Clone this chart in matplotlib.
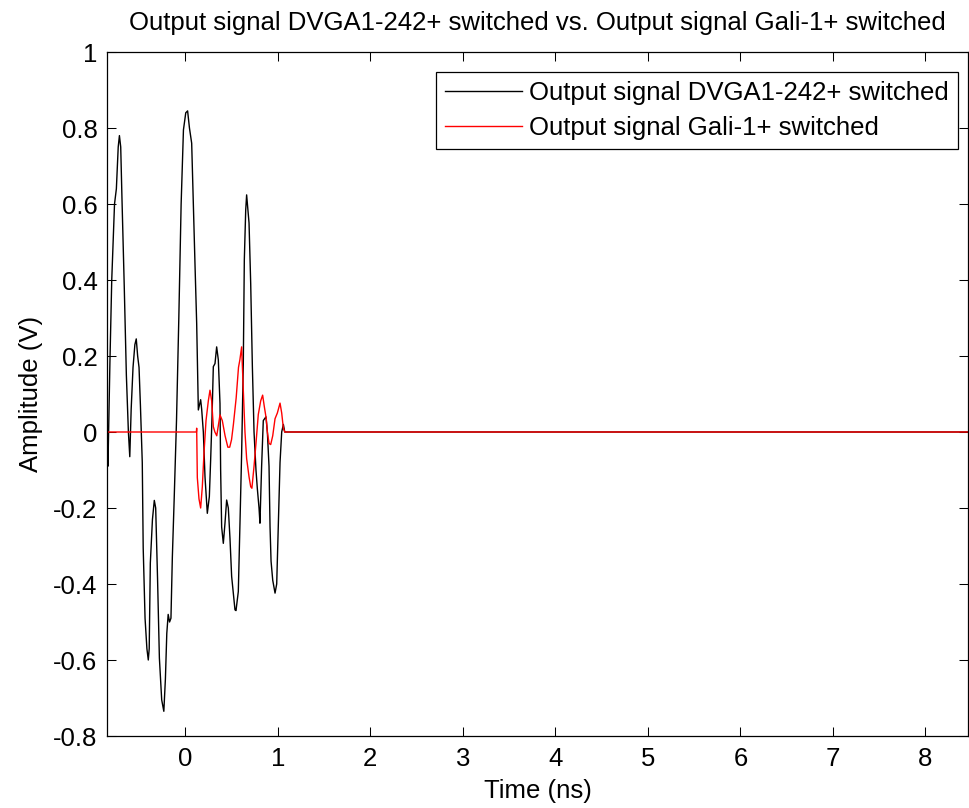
import matplotlib
matplotlib.use("Agg")
import matplotlib.pyplot as plt

# Time axis in ns, amplitudes in V
black_t = [-0.843, -0.836, -0.815, -0.795, -0.765, -0.745, -0.725, -0.712, -0.698,
           -0.685, -0.660, -0.637, -0.615, -0.600, -0.585, -0.565, -0.545, -0.530,
           -0.515, -0.500, -0.485, -0.465, -0.455, -0.435, -0.415, -0.400, -0.390,
           -0.378, -0.355, -0.335, -0.320, -0.300, -0.280, -0.255, -0.232, -0.215,
           -0.200, -0.185, -0.170, -0.155, -0.140, -0.120, -0.095, -0.070, -0.045,
           -0.020, 0.005, 0.025, 0.045, 0.069, 0.087, 0.105, 0.123, 0.141, 0.166,
           0.177, 0.195, 0.213, 0.238, 0.260, 0.274, 0.289, 0.303, 0.321, 0.339,
           0.357, 0.375, 0.382, 0.393, 0.411, 0.429, 0.447, 0.465, 0.483, 0.501,
           0.519, 0.537, 0.548, 0.573, 0.591, 0.609, 0.627, 0.638, 0.653, 0.663,
           0.689, 0.707, 0.725, 0.743, 0.764, 0.779, 0.797, 0.807, 0.825, 0.843,
           0.872, 0.887, 0.905, 0.916, 0.927, 0.945, 0.970, 0.988, 1.006, 1.024,
           1.042, 1.060, 1.075, 8.46]
black_v = [-0.01, -0.09, 0.18, 0.40, 0.60, 0.64, 0.75, 0.78, 0.75,
           0.62, 0.385, 0.15, 0.00, -0.065, 0.06, 0.17, 0.23, 0.245,
           0.20, 0.17, 0.07, -0.08, -0.305, -0.49, -0.57, -0.60, -0.57,
           -0.345, -0.23, -0.18, -0.20, -0.385, -0.595, -0.705, -0.735, -0.65,
           -0.53, -0.48, -0.50, -0.49, -0.33, -0.175, 0.03, 0.30, 0.60,
           0.795, 0.84, 0.845, 0.80, 0.76, 0.60, 0.44, 0.286, 0.058, 0.085,
           0.06, 0.00, -0.118, -0.214, -0.17, -0.074, 0.04, 0.172, 0.18, 0.224,
           0.19, 0.075, -0.10, -0.25, -0.293, -0.24, -0.179, -0.20, -0.28, -0.38,
           -0.424, -0.468, -0.47, -0.42, -0.24, -0.056, 0.18, 0.453, 0.584, 0.624,
           0.55, 0.39, 0.172, 0.00, -0.10, -0.15, -0.20, -0.24, -0.09, 0.03,
           0.04, 0.00, -0.09, -0.25, -0.34, -0.39, -0.424, -0.40, -0.24, -0.08,
           0.00, 0.02, 0.00, 0.00]

red_t = [-0.843, 0.120, 0.123, 0.130, 0.148, 0.166, 0.184, 0.202, 0.224, 0.249,
         0.267, 0.285, 0.303, 0.320, 0.340, 0.375, 0.400, 0.430, 0.460, 0.480,
         0.500, 0.520, 0.550, 0.575, 0.590, 0.609, 0.627, 0.645, 0.663, 0.689,
         0.707, 0.720, 0.743, 0.764, 0.789, 0.815, 0.836, 0.854, 0.875, 0.887,
         0.905, 0.923, 0.945, 0.970, 0.995, 1.024, 1.042, 1.060, 1.075, 8.46]
red_v = [0.0, 0.0, 0.01, -0.12, -0.176, -0.20, -0.144, -0.056, 0.03, 0.082,
         0.11, 0.082, 0.014, 0.0, -0.01, 0.045, 0.03, -0.01, -0.04, -0.04,
         -0.02, 0.02, 0.09, 0.17, 0.19, 0.224, 0.11, 0.0, -0.07, -0.118,
         -0.144, -0.148, -0.09, -0.03, 0.046, 0.082, 0.097, 0.067, 0.035, 0.0,
         -0.03, -0.033, -0.01, 0.035, 0.05, 0.076, 0.05, 0.01, 0.0, 0.0]

x_ticks = [0, 1, 2, 3, 4, 5, 6, 7, 8]
y_ticks = [-0.8, -0.6, -0.4, -0.2, 0, 0.2, 0.4, 0.6, 0.8, 1]
y_tick_labels = ["-0.8", "-0.6", "-0.4", "-0.2", "0", "0.2", "0.4", "0.6", "0.8", "1"]

title = "Output signal DVGA1-242+ switched vs. Output signal Gali-1+ switched"
label_black = "Output signal DVGA1-242+ switched"
label_red = "Output signal Gali-1+ switched"

plt.rcParams["font.family"] = ["Liberation Sans", "DejaVu Sans"]
FS = 18.5

W, H = 969, 808
fig = plt.figure(figsize=(W / 100, H / 100), dpi=100)
ax = fig.add_axes([107.3 / W, (H - 736) / H, (968 - 107.3) / W, 684 / H])

ax.plot(black_t, black_v, color="black", lw=1.0, label=label_black)
ax.plot(red_t, red_v, color="red", lw=1.0, label=label_red)

ax.set_xlim(-0.843, 8.46)
ax.set_ylim(-0.8, 1.0)
ax.set_xticks(x_ticks)
ax.set_xticklabels([str(v) for v in x_ticks])
ax.set_yticks(y_ticks)
ax.set_yticklabels(y_tick_labels)
ax.tick_params(direction="in", top=True, right=True, length=6.5, width=0.75,
               labelsize=FS)
ax.tick_params(axis="x", pad=8)
ax.tick_params(axis="y", pad=7)
for s in ax.spines.values():
    s.set_linewidth(0.9)

ax.set_title(title, fontsize=FS, pad=16)
ax.set_xlabel("Time (ns)", fontsize=FS, labelpad=6)
ax.set_ylabel("Amplitude (V)", fontsize=FS, labelpad=7)

leg = ax.legend(loc="upper right", bbox_to_anchor=(0.988, 0.971), fontsize=FS,
                frameon=True, fancybox=False, edgecolor="black", framealpha=1,
                borderaxespad=0, handlelength=3.0, handletextpad=0.27,
                labelspacing=0.42, borderpad=0.35)
leg.get_frame().set_linewidth(0.9)

fig.savefig("out.png", dpi=100)
